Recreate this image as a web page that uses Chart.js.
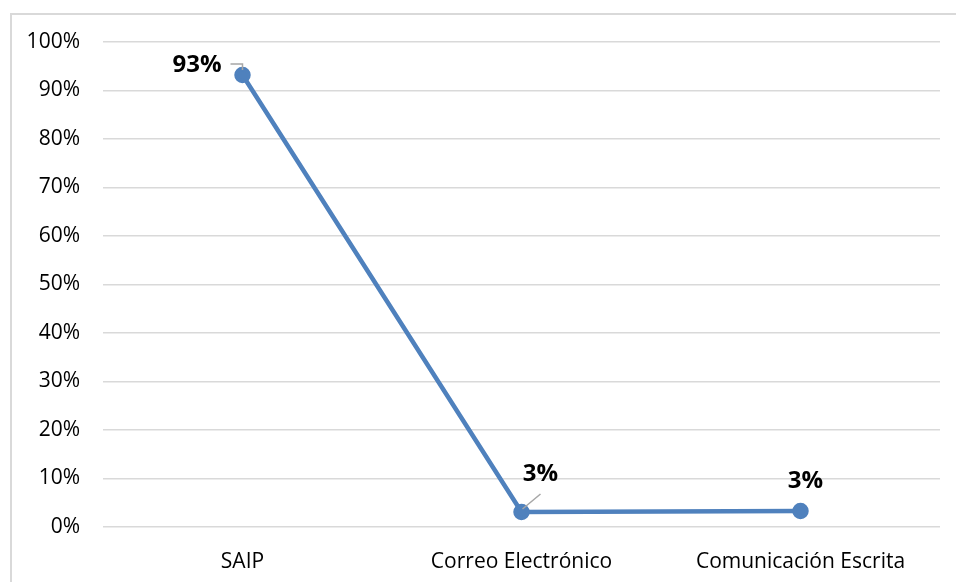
<!DOCTYPE html>
<html>
<head>
<meta charset="utf-8">
<script src="https://cdn.jsdelivr.net/npm/chart.js@4.4.1/dist/chart.umd.min.js"></script>
<style>
  html, body { margin: 0; padding: 0; background: #fff; }
  #wrap { position: relative; width: 956px; height: 582px; }
  #frame { position: absolute; left: 10px; top: 13px; width: 960px; height: 580px;
           border: 2px solid #d9d9d9; box-sizing: border-box; }
  canvas { position: absolute; left: 0; top: 0; }
</style>
</head>
<body>
<div id="wrap">
  <div id="frame"></div>
  <canvas id="myChart" width="956" height="582"></canvas>
</div>
<script>
const categories = ['SAIP', 'Correo Electrónico', 'Comunicación Escrita'];
const values = [93.2, 3.1, 3.3];
const yTicks = [0, 10, 20, 30, 40, 50, 60, 70, 80, 90, 100];

const lineColor = '#4f81bd';
const gridColor = '#d9d9d9';
const fontFamily = '"Open Sans", sans-serif';

// label placement relative to each point (pixels)
const labelStyle = [
    { dx: -21, dy: -10, align: 'right', leader: [[-12, -11], [0, -11], [0, -5]] },
    { dx: 19, dy: -38, align: 'center', leader: [[1, -3], [19, -18]] },
    { dx: 5, dy: -30, align: 'center', leader: null }
];

const dataLabels = {
    id: 'dataLabels',
    afterDatasetsDraw(chart) {
        const ctx = chart.ctx;
        const meta = chart.getDatasetMeta(0);
        meta.data.forEach((pt, i) => {
            const s = labelStyle[i];
            ctx.save();
            if (s.leader) {
                ctx.strokeStyle = '#a6a6a6';
                ctx.lineWidth = 1.5;
                ctx.beginPath();
                s.leader.forEach((p, j) => {
                    if (j === 0) ctx.moveTo(pt.x + p[0], pt.y + p[1]);
                    else ctx.lineTo(pt.x + p[0], pt.y + p[1]);
                });
                ctx.stroke();
            }
            ctx.fillStyle = '#000';
            ctx.font = 'bold 24px ' + fontFamily;
            ctx.textAlign = s.align;
            ctx.textBaseline = 'middle';
            ctx.fillText(Math.round(values[i]) + '%', pt.x + s.dx, pt.y + s.dy);
            ctx.restore();
        });
    }
};

const data = {
    labels: categories,
    datasets: [{
        data: values,
        borderColor: lineColor,
        backgroundColor: lineColor,
        borderWidth: 4.5,
        pointRadius: 6,
        pointHoverRadius: 6,
        tension: 0
    }]
};

const config = {
    type: 'line',
    data: data,
    options: {
        responsive: false,
        animation: false,
        events: [],
        layout: { padding: { left: 0, right: 16, top: 42, bottom: 0 } },
        plugins: { legend: { display: false }, tooltip: { enabled: false } },
        scales: {
            x: {
                offset: true,
                grid: { display: false },
                border: { display: false },
                ticks: { color: '#000', padding: 14, font: { family: fontFamily, size: 21 } },
                afterFit(scale) { scale.height = 55; }
            },
            y: {
                min: 0,
                max: 100,
                afterBuildTicks(scale) { scale.ticks = yTicks.map(v => ({ value: v })); },
                grid: { color: gridColor, lineWidth: 1.5, drawTicks: false },
                border: { display: false },
                ticks: {
                    color: '#000',
                    padding: 23,
                    font: { family: fontFamily, size: 21 },
                    callback: v => v + '%'
                },
                afterFit(scale) { scale.width = 103; }
            }
        }
    },
    plugins: [dataLabels]
};

new Chart(document.getElementById('myChart'), config);
</script>
</body>
</html>
